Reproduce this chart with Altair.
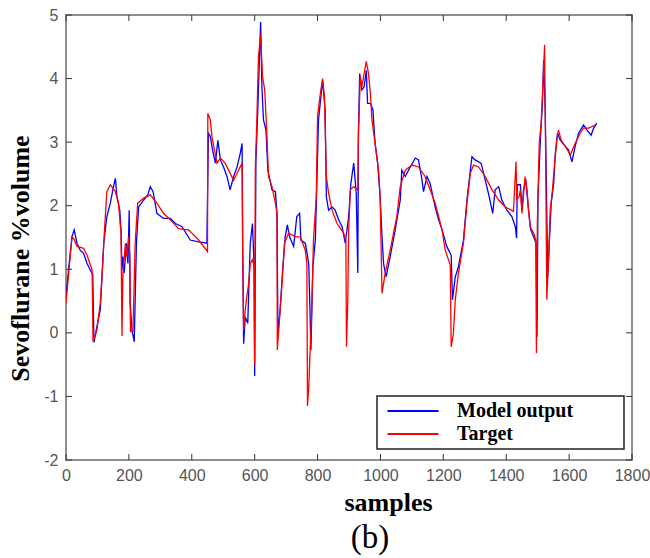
import altair as alt
import pandas as pd

# Target (red) series: sample index and Sevoflurane %volume
target_samples = [0, 19, 26, 35, 56, 67, 83, 86, 98, 109, 117, 123, 130, 141, 157, 167, 173, 175, 178, 181,
                  189, 194, 199, 203, 205, 213, 220, 228, 247, 268, 289, 310, 332, 358, 390, 422, 450, 451, 459, 464,
                  480, 491, 506, 533, 544, 560, 562, 565, 570, 575, 581, 586, 593, 598, 600, 602, 607, 612, 619, 625,
                  632, 639, 644, 655, 666, 671, 672, 678, 687, 695, 708, 729, 745, 761, 766, 768, 772, 782, 787, 796,
                  800, 809, 816, 822, 828, 835, 846, 862, 883, 890, 892, 896, 899, 904, 915, 928, 930, 936, 941, 948,
                  955, 962, 968, 973, 983, 994, 999, 1005, 1015, 1031, 1052, 1063, 1079, 1100, 1121, 1142, 1158, 1174, 1185, 1196,
                  1206, 1222, 1225, 1232, 1238, 1248, 1264, 1275, 1286, 1296, 1312, 1333, 1355, 1376, 1397, 1423, 1431, 1434, 1441, 1445,
                  1450, 1460, 1466, 1471, 1476, 1487, 1494, 1496, 1499, 1505, 1511, 1518, 1522, 1526, 1529, 1535, 1540, 1547, 1554, 1561,
                  1566, 1575, 1588, 1604, 1619, 1635, 1646, 1662, 1683]
target_values = [0.47, 1.51, 1.47, 1.36, 1.33, 1.22, 0.99, -0.14, 0.04, 0.47, 1.10, 1.67, 2.22, 2.33, 2.22, 2.04, 1.67, 1.60, -0.05, 0.94,
                 1.41, 1.20, 1.51, 1.20, 0.02, 0.02, 1.41, 2.04, 2.12, 2.17, 2.04, 1.88, 1.78, 1.64, 1.62, 1.46, 1.28, 3.45, 3.35, 3.09,
                 2.67, 2.75, 2.67, 2.40, 2.51, 2.67, 1.30, 0.04, 0.36, 0.57, 0.78, 1.09, 1.15, 1.05, -0.50, 2.56, 3.35, 4.34, 4.70, 4.03,
                 3.82, 3.09, 2.46, 2.30, 2.04, 1.88, -0.27, 0.15, 0.78, 1.41, 1.57, 1.51, 1.51, 1.30, 1.09, -1.15, -0.85, 0.46, 1.46, 2.14,
                 3.40, 3.77, 4.00, 3.71, 2.46, 2.20, 1.93, 1.72, 1.57, 1.46, -0.22, 0.47, 1.62, 2.25, 2.30, 2.25, 3.14, 4.03, 3.87, 4.08,
                 4.27, 4.08, 3.77, 3.35, 2.98, 2.56, 2.14, 0.62, 0.94, 1.30, 1.83, 2.30, 2.56, 2.64, 2.61, 2.46, 2.25, 2.04, 1.83, 1.62,
                 1.30, 1.07, -0.22, -0.01, 0.52, 0.94, 1.41, 2.04, 2.51, 2.64, 2.61, 2.46, 2.25, 2.09, 1.98, 1.91, 2.69, 2.10, 2.14, 2.25,
                 1.88, 2.46, 2.25, 1.93, 1.67, 1.57, 1.46, -0.32, 1.72, 2.98, 3.30, 4.03, 4.53, 2.46, 0.52, 1.20, 1.93, 2.25, 2.67, 3.03,
                 3.19, 3.03, 2.93, 2.80, 2.98, 3.14, 3.22, 3.22, 3.27]

# Model output (blue) series
model_samples = [0, 8, 19, 26, 35, 45, 56, 67, 77, 85, 89, 98, 109, 120, 130, 141, 151, 157, 162, 171,
                 175, 178, 181, 185, 192, 197, 201, 204, 210, 217, 224, 231, 247, 260, 268, 277, 289, 310, 332, 348,
                 369, 395, 422, 448, 453, 459, 466, 475, 483, 491, 501, 512, 522, 533, 544, 554, 560, 562, 565, 570,
                 578, 586, 593, 598, 600, 604, 610, 615, 619, 623, 628, 636, 642, 655, 666, 671, 674, 681, 689, 697,
                 704, 711, 724, 734, 743, 747, 761, 772, 779, 785, 793, 796, 803, 816, 824, 828, 835, 846, 856, 867,
                 878, 888, 899, 906, 915, 923, 928, 930, 934, 941, 948, 955, 959, 968, 976, 983, 991, 999, 1005, 1010,
                 1018, 1031, 1047, 1063, 1068, 1079, 1095, 1111, 1121, 1132, 1137, 1148, 1158, 1174, 1185, 1196, 1211, 1225, 1229, 1238,
                 1248, 1264, 1275, 1286, 1291, 1301, 1320, 1333, 1346, 1357, 1365, 1376, 1386, 1402, 1418, 1429, 1433, 1435, 1445, 1450,
                 1455, 1462, 1471, 1478, 1487, 1495, 1498, 1501, 1508, 1515, 1519, 1524, 1527, 1532, 1537, 1543, 1551, 1556, 1563, 1572,
                 1583, 1598, 1609, 1619, 1630, 1646, 1657, 1670, 1678, 1688]
model_values = [0.57, 0.99, 1.51, 1.62, 1.41, 1.30, 1.25, 1.09, 0.99, 0.92, -0.15, 0.09, 0.36, 1.41, 1.83, 2.04, 2.30, 2.43, 2.14, 1.93,
                1.62, 0.99, 1.20, 0.94, 1.41, 1.09, 1.93, 0.47, 0.04, -0.14, 1.41, 1.98, 2.09, 2.17, 2.30, 2.22, 1.88, 1.80, 1.80, 1.72,
                1.67, 1.46, 1.43, 1.41, 3.14, 3.09, 2.88, 2.67, 3.03, 2.72, 2.61, 2.46, 2.25, 2.46, 2.61, 2.82, 2.98, 1.30, -0.17, 0.25,
                0.15, 1.41, 1.72, 1.09, -0.68, 2.72, 3.51, 4.29, 4.89, 3.87, 3.35, 3.19, 2.56, 2.25, 2.22, 1.88, -0.01, 0.36, 0.99, 1.51,
                1.70, 1.51, 1.36, 1.83, 1.88, 1.46, 1.41, 1.09, -0.27, 1.04, 1.46, 2.04, 3.35, 3.97, 3.51, 2.14, 1.93, 1.98, 1.93, 1.78,
                1.67, 1.41, 1.83, 2.35, 2.67, 2.20, 0.94, 3.14, 4.08, 3.82, 3.87, 4.13, 3.61, 3.61, 3.51, 2.98, 2.67, 2.14, 1.51, 1.09,
                0.88, 1.20, 1.62, 2.09, 2.56, 2.46, 2.61, 2.75, 2.72, 2.41, 2.22, 2.46, 2.35, 1.98, 1.78, 1.62, 1.36, 1.22, 0.52, 0.88,
                1.04, 1.46, 2.09, 2.56, 2.77, 2.72, 2.67, 2.41, 2.14, 1.88, 2.25, 2.30, 2.09, 1.93, 1.83, 1.67, 1.49, 2.33, 2.33, 1.93,
                2.25, 2.41, 1.93, 1.62, 1.51, 1.41, -0.06, 2.14, 2.98, 3.61, 4.29, 3.51, 2.56, 0.88, 1.41, 2.04, 2.35, 2.82, 3.14, 3.03,
                2.96, 2.88, 2.69, 2.93, 3.14, 3.27, 3.19, 3.11, 3.22, 3.30]

series_names = ["Model output", "Target"]
series_colors = ["#0000ff", "#ff0000"]
x_ticks = [0, 200, 400, 600, 800, 1000, 1200, 1400, 1600, 1800]
y_ticks = [-2, -1, 0, 1, 2, 3, 4, 5]

df = pd.concat([
    pd.DataFrame({"sample": model_samples, "value": model_values, "series": series_names[0]}),
    pd.DataFrame({"sample": target_samples, "value": target_values, "series": series_names[1]}),
], ignore_index=True)

W, H = 566, 445
TL = 6
xs = alt.Scale(domain=[0, 1800], nice=False, zero=False)
ys = alt.Scale(domain=[-2, 5], nice=False, zero=False)

x_axis = alt.Axis(values=x_ticks, title="samples", labelExpr="datum.value + ''", labelFlush=False,
                  labelPadding=7, titleX=322, titleY=50, titleBaseline="alphabetic", titleAlign="center")
y_axis = alt.Axis(values=y_ticks, title="Sevoflurane %volume", labelExpr="datum.value + ''", labelFlush=False,
                  labelPadding=8, titleX=-46, titleY=243, titleBaseline="middle", titleAlign="center",
                  titleAngle=270)

lines = alt.Chart(df).mark_line(strokeWidth=1.3, clip=True).encode(
    x=alt.X("sample:Q", scale=xs, axis=x_axis, title="samples"),
    y=alt.Y("value:Q", scale=ys, axis=y_axis, title="Sevoflurane %volume"),
    color=alt.Color("series:N", scale=alt.Scale(domain=series_names, range=series_colors),
                    legend=alt.Legend(orient="none", legendX=311, legendY=381, title=None,
                                      symbolType="M-5.1,0H5.1", symbolSize=100, symbolStrokeWidth=2,
                                      labelFont="Liberation Serif", labelFontSize=20, labelFontWeight="bold",
                                      labelColor="black", labelLimit=400, padding=5, symbolOffset=21,
                                      labelOffset=34, rowPadding=3, fillColor="white", strokeColor="#222",
                                      labelExpr="datum.label + '\u2800\u2800\u2800'")),
)

xt = pd.DataFrame({"t": x_ticks})
yt = pd.DataFrame({"t": y_ticks})
tick_style = dict(color="#333333", strokeWidth=1)
bottom_ticks = alt.Chart(xt).mark_rule(**tick_style).encode(
    x=alt.X("t:Q", scale=xs, axis=x_axis, title="samples"), y=alt.value(H), y2=alt.value(H - TL))
top_ticks = alt.Chart(xt).mark_rule(**tick_style).encode(
    x=alt.X("t:Q", scale=xs, axis=x_axis, title="samples"), y=alt.value(0), y2=alt.value(TL))
left_ticks = alt.Chart(yt).mark_rule(**tick_style).encode(
    y=alt.Y("t:Q", scale=ys, axis=y_axis, title="Sevoflurane %volume"), x=alt.value(0), x2=alt.value(TL))
right_ticks = alt.Chart(yt).mark_rule(**tick_style).encode(
    y=alt.Y("t:Q", scale=ys, axis=y_axis, title="Sevoflurane %volume"), x=alt.value(W), x2=alt.value(W - TL))

chart = alt.layer(lines, bottom_ticks, top_ticks, left_ticks, right_ticks).properties(
    width=W, height=H,
    autosize="none",
    padding={"left": 66, "top": 15, "right": 18, "bottom": 98},
    title=alt.TitleParams(text="(b)", orient="bottom", anchor="middle", dx=21, offset=7,
                          font="Liberation Serif", fontSize=33, fontWeight="normal", color="black"),
).configure_view(
    stroke="#8f8f8f", strokeWidth=2
).configure_axis(
    domain=False, ticks=False, grid=False, labelOverlap=False,
    labelFont="Liberation Sans", labelFontSize=16, labelColor="#555555",
    titleFont="Liberation Serif", titleFontSize=26, titleFontWeight="bold", titleColor="black",
).configure_legend(
    strokeWidth=1.5
)

chart.save("out.html", embed_options={"renderer": "svg", "actions": False})
